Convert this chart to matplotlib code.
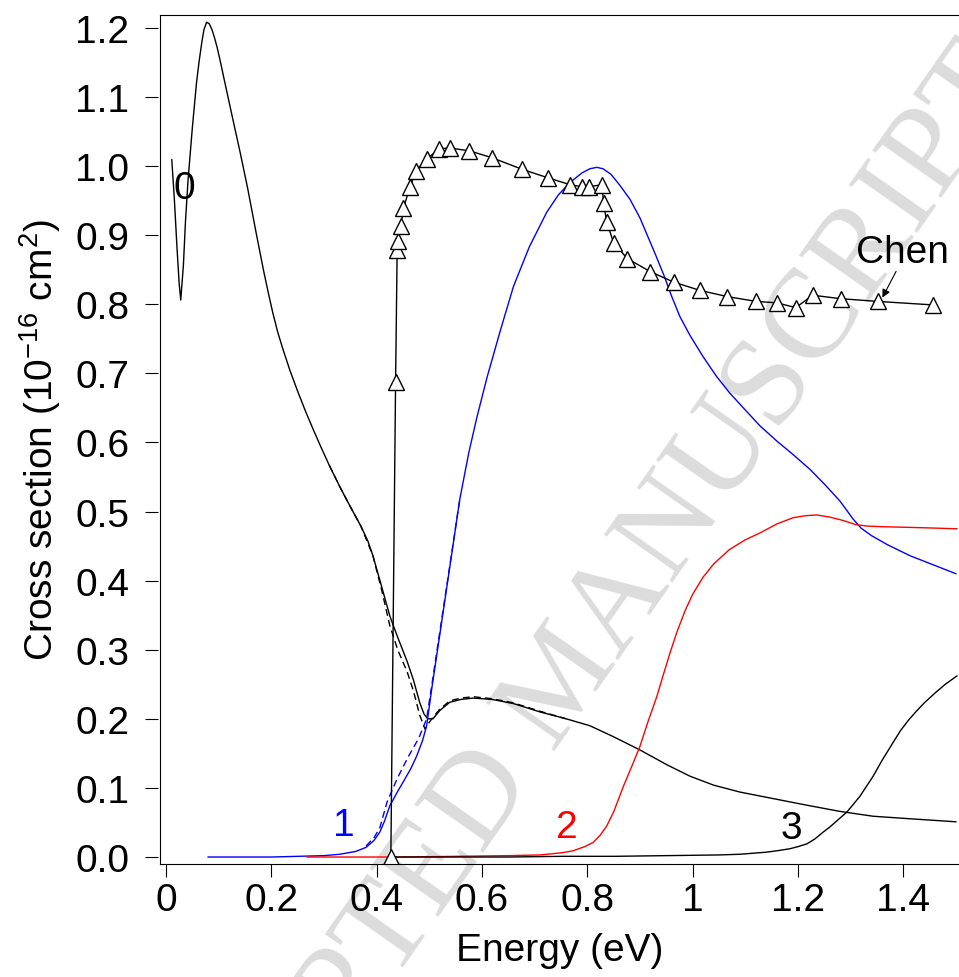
import matplotlib
matplotlib.use('Agg')
import matplotlib.pyplot as plt
from matplotlib.lines import Line2D

plt.rcParams['font.family'] = ['Liberation Sans', 'DejaVu Sans']
plt.rcParams['mathtext.fontset'] = 'custom'
plt.rcParams['mathtext.rm'] = 'Liberation Sans'
plt.rcParams['mathtext.it'] = 'Liberation Sans:italic'
plt.rcParams['mathtext.default'] = 'regular'

# curve 0 (black), solid and dashed
x0 = [0.011, 0.016, 0.021, 0.025, 0.028, 0.033, 0.037, 0.042, 0.05, 0.058, 0.063, 0.068, 0.072,
      0.077, 0.082, 0.087, 0.092, 0.097, 0.103, 0.11, 0.116, 0.122, 0.13, 0.141, 0.155, 0.172,
      0.186, 0.195, 0.203, 0.212, 0.222, 0.235, 0.25, 0.265, 0.28, 0.295, 0.31, 0.33, 0.35, 0.37,
      0.383, 0.393, 0.41, 0.425, 0.44, 0.458, 0.47, 0.482, 0.49, 0.497, 0.507, 0.52, 0.539, 0.56,
      0.583, 0.62, 0.66, 0.71, 0.76, 0.805, 0.85, 0.90, 0.95, 0.995, 1.04, 1.09, 1.15, 1.217,
      1.28, 1.343, 1.42, 1.50]
y0 = [1.009, 0.95, 0.88, 0.83, 0.806, 0.856, 0.92, 0.981, 1.055, 1.121, 1.152, 1.179, 1.197,
      1.208, 1.206, 1.198, 1.186, 1.172, 1.152, 1.127, 1.106, 1.085, 1.057, 1.019, 0.968, 0.900,
      0.846, 0.814, 0.787, 0.760, 0.735, 0.705, 0.674, 0.645, 0.618, 0.592, 0.567, 0.536, 0.507,
      0.479, 0.458, 0.436, 0.39, 0.349, 0.318, 0.283, 0.256, 0.223, 0.207, 0.200, 0.200, 0.212,
      0.224, 0.228, 0.230, 0.228, 0.222, 0.210, 0.200, 0.19, 0.174, 0.155, 0.134, 0.117, 0.104,
      0.094, 0.085, 0.075, 0.066, 0.059, 0.055, 0.051]
x0d = [0.31, 0.33, 0.35, 0.37, 0.393, 0.41, 0.425, 0.44, 0.458, 0.47, 0.482, 0.492, 0.50, 0.51,
       0.52, 0.539, 0.56, 0.583, 0.62, 0.66, 0.71, 0.76]
y0d = [0.567, 0.536, 0.507, 0.479, 0.436, 0.385, 0.335, 0.30, 0.268, 0.24, 0.205, 0.185, 0.195,
       0.205, 0.214, 0.226, 0.230, 0.232, 0.229, 0.223, 0.211, 0.200]

# curve 1 (blue)
x1 = [0.08, 0.15, 0.20, 0.25, 0.30, 0.33, 0.36, 0.38, 0.395, 0.406, 0.415, 0.425, 0.44, 0.45,
      0.465, 0.476, 0.487, 0.495, 0.505, 0.52, 0.54, 0.558, 0.575, 0.59, 0.61, 0.635, 0.66, 0.69,
      0.723, 0.745, 0.767, 0.79, 0.805, 0.818, 0.83, 0.845, 0.862, 0.881, 0.90, 0.915, 0.93,
      0.945, 0.96, 0.976, 0.995, 1.02, 1.046, 1.07, 1.10, 1.128, 1.16, 1.19, 1.223, 1.25, 1.28,
      1.305, 1.32, 1.34, 1.37, 1.413, 1.46, 1.50]
y1 = [0.0, 0.0, 0.0, 0.001, 0.002, 0.004, 0.008, 0.014, 0.024, 0.036, 0.052, 0.074, 0.095, 0.108,
      0.128, 0.146, 0.168, 0.19, 0.245, 0.322, 0.425, 0.518, 0.585, 0.635, 0.695, 0.762, 0.826,
      0.883, 0.933, 0.958, 0.976, 0.99, 0.996, 0.998, 0.996, 0.988, 0.972, 0.952, 0.925, 0.898,
      0.871, 0.843, 0.812, 0.782, 0.755, 0.724, 0.695, 0.672, 0.647, 0.624, 0.602, 0.583, 0.561,
      0.54, 0.515, 0.489, 0.476, 0.465, 0.452, 0.436, 0.422, 0.41]
x1d = [0.38, 0.395, 0.406, 0.42, 0.44, 0.46, 0.48, 0.495, 0.505, 0.52, 0.54, 0.558]
y1d = [0.016, 0.028, 0.042, 0.08, 0.115, 0.145, 0.172, 0.20, 0.25, 0.326, 0.427, 0.518]

# curve 2 (red)
x2 = [0.268, 0.35, 0.45, 0.55, 0.65, 0.71, 0.75, 0.773, 0.795, 0.811, 0.825, 0.837, 0.85, 0.869,
      0.885, 0.90, 0.915, 0.932, 0.945, 0.957, 0.97, 0.985, 1.0, 1.02, 1.04, 1.07, 1.10, 1.128,
      1.16, 1.191, 1.215, 1.236, 1.26, 1.286, 1.31, 1.33, 1.36, 1.413, 1.46, 1.502]
y2 = [0.0, 0.0, 0.0, 0.001, 0.002, 0.003, 0.006, 0.009, 0.015, 0.021, 0.032, 0.045, 0.065, 0.103,
      0.132, 0.16, 0.195, 0.232, 0.265, 0.295, 0.325, 0.355, 0.38, 0.405, 0.424, 0.445, 0.459,
      0.469, 0.482, 0.491, 0.494, 0.495, 0.492, 0.487, 0.481, 0.479, 0.478, 0.477, 0.476, 0.475]

# curve 3 (black)
x3 = [0.43, 0.55, 0.65, 0.75, 0.85, 0.95, 1.05, 1.09, 1.14, 1.16, 1.185, 1.2, 1.217, 1.232,
      1.248, 1.26, 1.275, 1.293, 1.305, 1.318, 1.33, 1.343, 1.36, 1.381, 1.395, 1.41, 1.425,
      1.44, 1.46, 1.48, 1.502]
y3 = [0.0, 0.0, 0.0, 0.001, 0.001, 0.002, 0.003, 0.004, 0.007, 0.009, 0.012, 0.015, 0.019, 0.026,
      0.036, 0.043, 0.053, 0.065, 0.076, 0.088, 0.102, 0.117, 0.14, 0.166, 0.183, 0.198, 0.211,
      0.223, 0.237, 0.25, 0.262]

# Chen measurements
xc = [0.427, 0.436, 0.439, 0.441, 0.446, 0.451, 0.463, 0.475, 0.495, 0.519, 0.539, 0.576, 0.619,
      0.677, 0.725, 0.767, 0.790, 0.804, 0.828, 0.831, 0.837, 0.850, 0.876, 0.920, 0.964, 1.014,
      1.066, 1.121, 1.160, 1.196, 1.228, 1.281, 1.352, 1.456]
yc = [0.0, 0.687, 0.879, 0.891, 0.913, 0.939, 0.969, 0.993, 1.010, 1.025, 1.026, 1.022, 1.012,
      0.995, 0.983, 0.973, 0.970, 0.970, 0.973, 0.946, 0.919, 0.889, 0.866, 0.847, 0.832, 0.820,
      0.811, 0.804, 0.802, 0.795, 0.813, 0.808, 0.804, 0.799]

xticks = [0, 0.2, 0.4, 0.6, 0.8, 1.0, 1.2, 1.4]
xticklabels = ['0', '0.2', '0.4', '0.6', '0.8', '1', '1.2', '1.4']
yticks = [0.0, 0.1, 0.2, 0.3, 0.4, 0.5, 0.6, 0.7, 0.8, 0.9, 1.0, 1.1, 1.2]

fig = plt.figure(figsize=(9.59, 9.78), dpi=100)
ax = fig.add_axes([160 / 959, 1 - 865 / 978, 1 - 160 / 959, (865 - 16) / 978])
ax.patch.set_alpha(0)

# watermark
fig.text(565 / 959, 1 - 682 / 978, 'ACCEPTED MANUSCRIPT', rotation=55, rotation_mode='anchor',
         ha='center', va='center', fontsize=92, family='Liberation Serif', color='#dcdcdc',
         zorder=-1)

lw = 1.0
ax.plot(x0, y0, color='k', lw=lw)
ax.plot(x0d, y0d, color='k', lw=lw, ls=(0, (5, 3)))
ax.plot(x1, y1, color='#0000ff', lw=lw)
ax.plot(x1d, y1d, color='#0000ff', lw=lw, ls=(0, (5, 3)))
ax.plot(x2, y2, color='#ff0000', lw=lw)
ax.plot(x3, y3, color='k', lw=lw)
ax.plot(xc, yc, color='k', lw=lw, marker='^', ms=11, mfc='white', mec='k', mew=1.0)

fs = 28
ax.text(0.034, 0.968, '0', fontsize=fs, ha='center', va='center')
ax.text(0.337, 0.046, '1', fontsize=fs, ha='center', va='center', color='#0000ff')
ax.text(0.761, 0.043, '2', fontsize=fs, ha='center', va='center', color='#ff0000')
ax.text(1.188, 0.042, '3', fontsize=fs, ha='center', va='center')
ax.text(1.399, 0.876, 'Chen', fontsize=fs, ha='center', va='center')
ax.annotate('', xy=(1.358, 0.806), xytext=(1.389, 0.851),
            arrowprops=dict(arrowstyle='-|>', color='k', lw=0.8, mutation_scale=12))

ax.set_xlim(-0.0114, 1.506)
ax.set_ylim(-0.0101, 1.2185)
ax.set_xticks(xticks)
ax.set_xticklabels(xticklabels)
ax.set_yticks(yticks)
ax.set_yticklabels(['%.1f' % v for v in yticks])
ax.tick_params(axis='both', direction='out', length=9.5, width=0.8, labelsize=fs)
ax.tick_params(axis='y', pad=11)
ax.tick_params(axis='x', pad=3.5)

ax.spines['right'].set_visible(False)
ax.spines['left'].set_position(('outward', 1.5))
ax.spines['left'].set_visible(False)
for s in ['top', 'bottom']:
    ax.spines[s].set_linewidth(0.8)
ax.add_line(Line2D([0, 0], [0, 1], transform=ax.transAxes, color='k', lw=0.8, clip_on=False))

ax.set_xlabel('Energy (eV)', fontsize=fs)
ax.set_ylabel('Cross section (10$^{-16}$ cm$^{2}$)', fontsize=fs, va='center')
ax.yaxis.set_label_coords(-0.15, 0.5)
ax.xaxis.set_label_coords(0.5, -0.08)

fig.savefig('out.png', dpi=100)
